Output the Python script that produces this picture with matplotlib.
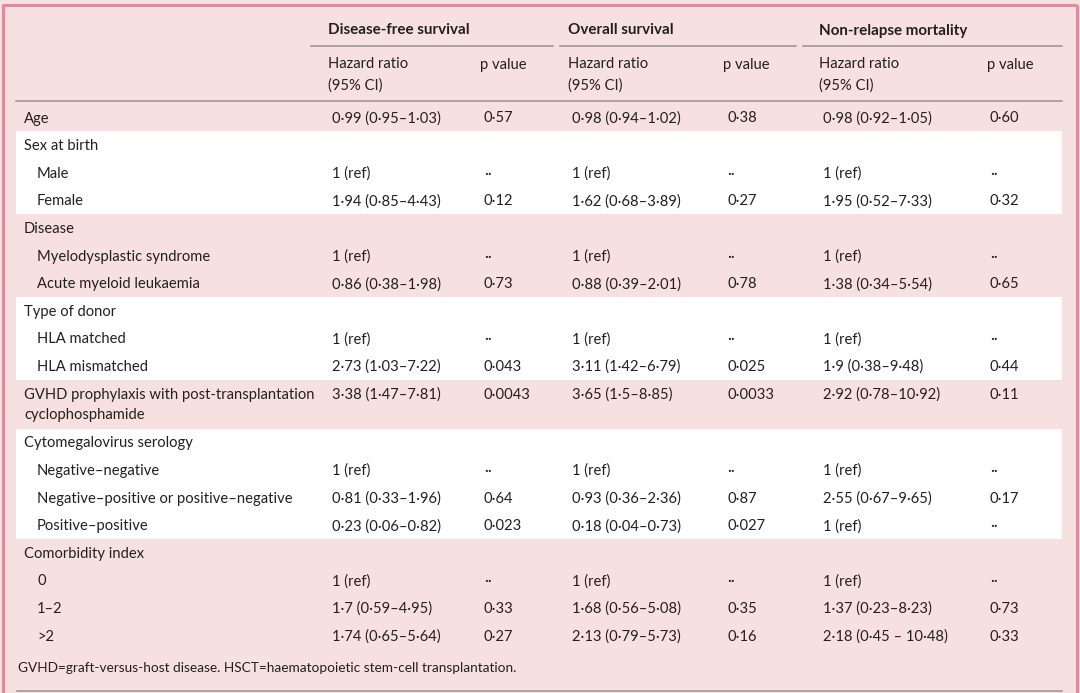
import matplotlib
matplotlib.use("Agg")
import matplotlib.pyplot as plt
from matplotlib.patches import Rectangle

plt.rcParams['font.family'] = ['Lato', 'DejaVu Sans']

# ---------------- data ----------------
groups = ["Disease-free survival", "Overall survival", "Non-relapse mortality"]
sub_headers = ["Hazard ratio\n(95% CI)", "p value"]

row_labels = ["Age", "Sex at birth", "Male", "Female", "Disease",
              "Myelodysplastic syndrome", "Acute myeloid leukaemia",
              "Type of donor", "HLA matched", "HLA mismatched",
              "GVHD prophylaxis with post-transplantation\ncyclophosphamide",
              "Cytomegalovirus serology", "Negative\u2013negative",
              "Negative\u2013positive or positive\u2013negative",
              "Positive\u2013positive", "Comorbidity index", "0", "1\u20132", ">2"]
row_indent = [0, 0, 1, 1, 0, 1, 1, 0, 1, 1, 0, 0, 1, 1, 1, 0, 1, 1, 1]

dfs_hr = ["0\u00b799 (0\u00b795\u20131\u00b703)", "", "1 (ref)", "1\u00b794 (0\u00b785\u20134\u00b743)", "",
          "1 (ref)", "0\u00b786 (0\u00b738\u20131\u00b798)", "", "1 (ref)", "2\u00b773 (1\u00b703\u20137\u00b722)",
          "3\u00b738 (1\u00b747\u20137\u00b781)", "", "1 (ref)", "0\u00b781 (0\u00b733\u20131\u00b796)",
          "0\u00b723 (0\u00b706\u20130\u00b782)", "", "1 (ref)", "1\u00b77 (0\u00b759\u20134\u00b795)",
          "1\u00b774 (0\u00b765\u20135\u00b764)"]
dfs_p = ["0\u00b757", "", "\u00b7\u00b7", "0\u00b712", "", "\u00b7\u00b7", "0\u00b773", "", "\u00b7\u00b7",
         "0\u00b7043", "0\u00b70043", "", "\u00b7\u00b7", "0\u00b764", "0\u00b7023", "", "\u00b7\u00b7",
         "0\u00b733", "0\u00b727"]
os_hr = ["0\u00b798 (0\u00b794\u20131\u00b702)", "", "1 (ref)", "1\u00b762 (0\u00b768\u20133\u00b789)", "",
         "1 (ref)", "0\u00b788 (0\u00b739\u20132\u00b701)", "", "1 (ref)", "3\u00b711 (1\u00b742\u20136\u00b779)",
         "3\u00b765 (1\u00b75\u20138\u00b785)", "", "1 (ref)", "0\u00b793 (0\u00b736\u20132\u00b736)",
         "0\u00b718 (0\u00b704\u20130\u00b773)", "", "1 (ref)", "1\u00b768 (0\u00b756\u20135\u00b708)",
         "2\u00b713 (0\u00b779\u20135\u00b773)"]
os_p = ["0\u00b738", "", "\u00b7\u00b7", "0\u00b727", "", "\u00b7\u00b7", "0\u00b778", "", "\u00b7\u00b7",
        "0\u00b7025", "0\u00b70033", "", "\u00b7\u00b7", "0\u00b787", "0\u00b7027", "", "\u00b7\u00b7",
        "0\u00b735", "0\u00b716"]
nrm_hr = ["0\u00b798 (0\u00b792\u20131\u00b705)", "", "1 (ref)", "1\u00b795 (0\u00b752\u20137\u00b733)", "",
          "1 (ref)", "1\u00b738 (0\u00b734\u20135\u00b754)", "", "1 (ref)", "1\u00b79 (0\u00b738\u20139\u00b748)",
          "2\u00b792 (0\u00b778\u201310\u00b792)", "", "1 (ref)", "2\u00b755 (0\u00b767\u20139\u00b765)",
          "1 (ref)", "", "1 (ref)", "1\u00b737 (0\u00b723\u20138\u00b723)",
          "2\u00b718 (0\u00b745 \u2013 10\u00b748)"]
nrm_p = ["0\u00b760", "", "\u00b7\u00b7", "0\u00b732", "", "\u00b7\u00b7", "0\u00b765", "", "\u00b7\u00b7",
         "0\u00b744", "0\u00b711", "", "\u00b7\u00b7", "0\u00b717", "\u00b7\u00b7", "", "\u00b7\u00b7",
         "0\u00b773", "0\u00b733"]

white_bands = [(1, 3), (7, 9), (11, 14)]   # row index ranges shaded white
footnote = "GVHD=graft-versus-host disease. HSCT=haematopoietic stem-cell transplantation."

# ---------------- layout ----------------
W, H = 1080, 693
BG = "#f7e1e0"
BORDER = "#e0899b"
LINE = "#9a8f8f"
TXT = "#231f20"
FS = 10.6
DY = 1.5   # vertical text offset

fig = plt.figure(figsize=(W / 100, H / 100), dpi=100)
fig.patch.set_facecolor(BG)
ax = fig.add_axes([0, 0, 1, 1])
ax.set_xlim(0, W)
ax.set_ylim(H, 0)
ax.axis("off")

# border (left, top, right)
ax.plot([2.5, 2.5], [5, H], color=BORDER, lw=2.2, solid_capstyle="butt")
ax.plot([1.5, 1077], [5, 5], color=BORDER, lw=2.2, solid_capstyle="butt")
ax.plot([1076.5, 1076.5], [5, H], color=BORDER, lw=2.2, solid_capstyle="butt")

# row y positions (text centres)
pitch = 27.6
row_y = []
y = 117
for i, lab in enumerate(row_labels):
    row_y.append(y)
    y += pitch if "\n" not in lab else 48.8

def row_top(i):
    return row_y[i] - pitch / 2
def row_bot(i):
    extra = 21 if "\n" in row_labels[i] else 0
    return row_y[i] + pitch / 2 + extra

for a, b in white_bands:
    top = row_top(a) + 0.5
    bot = row_bot(b) + 0.5
    ax.add_patch(Rectangle((16, top), 1062 - 16, bot - top, facecolor="white",
                           edgecolor="none", zorder=0))

# header
grp_x = [328, 568, 819]
grp_line = [(311, 553), (560, 796), (803, 1062)]
p_x = [480, 723, 987]
for g, gx, (l0, l1), px in zip(groups, grp_x, grp_line, p_x):
    ax.text(gx, 29 + DY, g, fontsize=FS + 0.3, fontweight="bold", color=TXT,
            va="center", ha="left")
    ax.plot([l0, l1], [45.5, 45.5], color=LINE, lw=1.1)
    ax.text(gx, 73.5 + DY, sub_headers[0], fontsize=FS, color=TXT, va="center",
            ha="left", linespacing=1.6)
    ax.text(px, 63 + DY, sub_headers[1], fontsize=FS, color=TXT, va="center", ha="left")
ax.plot([16, 1062], [100.5, 100.5], color=LINE, lw=1.1)

# body
hr_x = [332, 572, 823]
pv_x = [484, 727, 990]
cols = [(dfs_hr, dfs_p), (os_hr, os_p), (nrm_hr, nrm_p)]
for i, lab in enumerate(row_labels):
    yy = row_y[i] + DY
    lx = 37 if row_indent[i] else 24
    if "\n" in lab:
        ax.text(lx, yy + 10.5, lab, fontsize=FS, color=TXT, va="center", ha="left",
                linespacing=1.6)
    else:
        ax.text(lx, yy, lab, fontsize=FS, color=TXT, va="center", ha="left")
    for k, (hr, pv) in enumerate(cols):
        ax.text(hr_x[k], yy, hr[i], fontsize=FS, color=TXT, va="center", ha="left")
        ax.text(pv_x[k], yy, pv[i], fontsize=FS, color=TXT, va="center", ha="left")

ax.text(18, 667 + DY, footnote, fontsize=FS * 0.93, color=TXT, va="center", ha="left")
ax.plot([17, 1062], [690.5, 690.5], color=LINE, lw=1.1)

fig.savefig("out.png", dpi=100, facecolor=BG)
